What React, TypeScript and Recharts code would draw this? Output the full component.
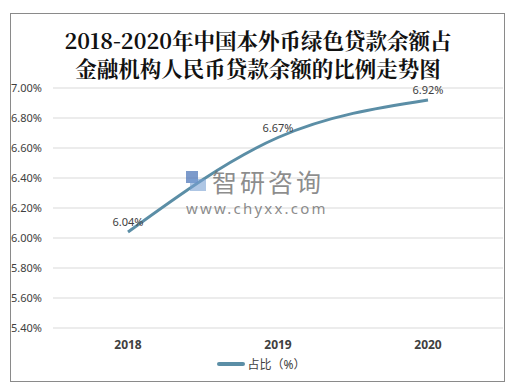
import { LineChart, Line, XAxis, YAxis, CartesianGrid, LabelList } from 'recharts'

const years = ['2018', '2019', '2020']
const share = [6.04, 6.67, 6.92]
const yTicks = [5.4, 5.6, 5.8, 6.0, 6.2, 6.4, 6.6, 6.8, 7.0]

const data = years.map((y, i) => ({ year: y, share: share[i] }))

const LINE = '#5b8ea6'
const INK = '#404040'
const pct = (v: number) => v.toFixed(2) + '%'

export default function App() {
  return (
    <div style={{
      position: 'absolute', left: 0, top: 0, width: 516, height: 389, background: '#fff',
      fontFamily: '"Noto Sans", "Noto Sans CJK SC", sans-serif',
    }}>
      <div style={{
        position: 'absolute', left: 10, top: 13, width: 495, height: 369,
        border: '1px solid #8a8a8a', boxSizing: 'border-box',
      }} />
      <div style={{
        position: 'absolute', left: 0, top: 26, width: 516, textAlign: 'center',
        fontFamily: '"Noto Serif CJK SC", serif, "Noto Sans CJK SC"', fontWeight: 700,
        fontSize: 21.5, lineHeight: '28px', color: '#111',
      }}>
        2018-2020年中国本外币绿色贷款余额占<br />金融机构人民币贷款余额的比例走势图
      </div>
      <div style={{ position: 'absolute', left: 0, top: 0 }}>
        <LineChart width={516} height={389} data={data} margin={{ top: 88, right: 13, bottom: 31, left: 0 }}>
          <CartesianGrid horizontal vertical={false} stroke="#d9d9d9" />
          <XAxis
            dataKey="year" axisLine={false} tickLine={false} tickSize={0} tickMargin={12} height={30}
            padding={{ left: 75, right: 75 }}
            tick={{ fontSize: 12, fontWeight: 700, fill: INK }}
          />
          <YAxis
            domain={[5.4, 7.0]} ticks={yTicks} width={53} axisLine={false} tickLine={false}
            tickSize={0} tickMargin={11} tickFormatter={pct} tick={{ fontSize: 11, fill: INK }}
          />
          <Line
            type="monotone" dataKey="share" stroke={LINE} strokeWidth={3}
            dot={false} activeDot={false} isAnimationActive={false}
          >
            <LabelList dataKey="share" position="top" offset={6} formatter={(v: any) => pct(Number(v))}
              style={{ fontSize: 11, fill: INK }} />
          </Line>
        </LineChart>
      </div>
      <div style={{
        position: 'absolute', left: 0, top: 355, width: 516, display: 'flex',
        justifyContent: 'center', alignItems: 'center', gap: 3, fontSize: 12, color: INK,
      }}>
        <span style={{ width: 28, height: 4, borderRadius: 2, background: LINE, display: 'inline-block', marginLeft: 6 }} />
        <span>占比（%）</span>
      </div>
      <div style={{
        position: 'absolute', left: 186, top: 166, width: 146,
        pointerEvents: 'none', color: 'rgba(110,110,110,0.8)',
      }}>
        <div style={{ display: 'flex', alignItems: 'center', fontSize: 25, lineHeight: '30px', fontFamily: '"Noto Sans CJK SC", sans-serif' }}>
          <span style={{ display: 'inline-block', width: 20, height: 20, marginRight: 6, position: 'relative' }}>
            <span style={{ position: 'absolute', left: 0, top: 0, width: 12, height: 12, background: 'rgba(80,120,185,0.75)' }} />
            <span style={{ position: 'absolute', left: 4, top: 8, width: 16, height: 12, background: 'rgba(120,160,210,0.6)' }} />
          </span>
          <span style={{ letterSpacing: 3 }}>智研咨询</span>
        </div>
        <div style={{ fontSize: 15, lineHeight: '20px', letterSpacing: 2.2, marginTop: 2 }}>www.chyxx.com</div>
      </div>
    </div>
  )
}
